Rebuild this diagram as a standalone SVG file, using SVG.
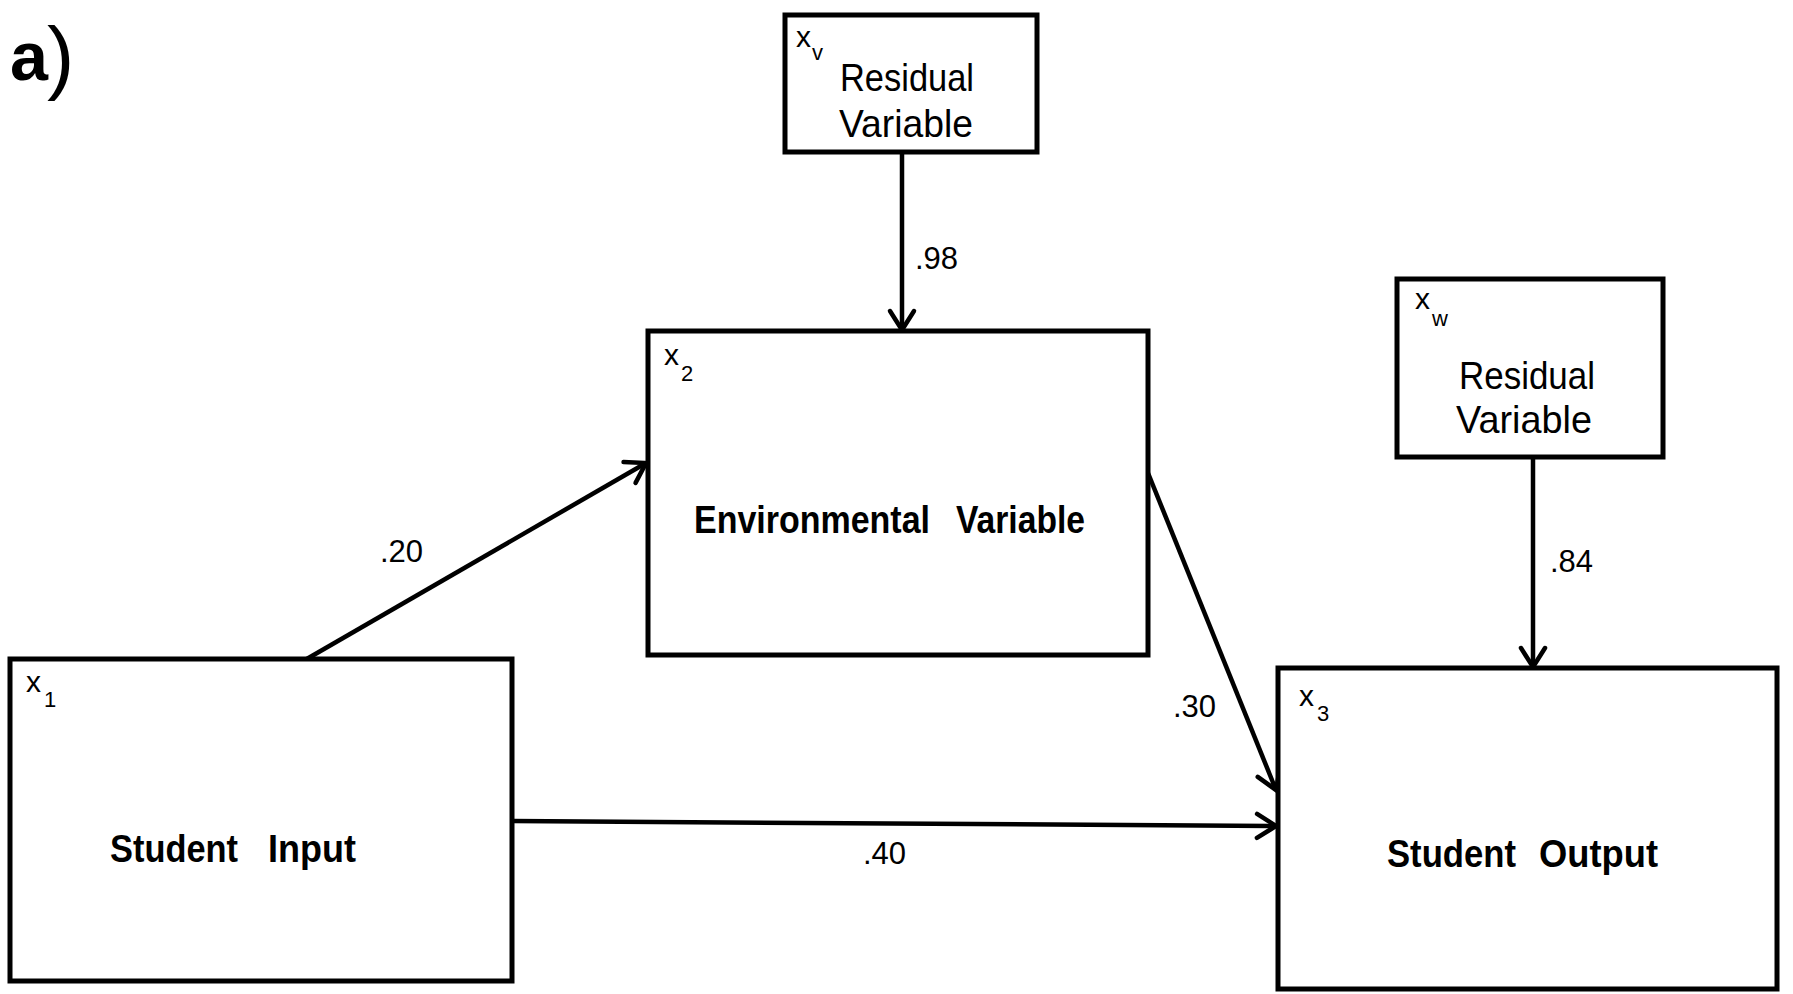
<svg xmlns="http://www.w3.org/2000/svg" width="1793" height="994" viewBox="0 0 1793 994">
<style>
.box{fill:#fff;stroke:#000;stroke-width:5;stroke-linejoin:miter}
.conn{stroke:#000;stroke-width:4.5;fill:none}
.lbl{font-family:"Liberation Sans",Arial,sans-serif;font-size:39px;fill:#000}
.bold{font-family:"Liberation Sans",Arial,sans-serif;font-size:38px;font-weight:bold;fill:#000}
.num{font-family:"Liberation Sans",Arial,sans-serif;font-size:31px;fill:#000}
.var{font-family:"Liberation Sans",Arial,sans-serif;font-size:30px;fill:#000}
.sub{font-family:"Liberation Sans",Arial,sans-serif;font-size:22px;fill:#000}
</style>
<defs>
<marker id="arr" markerUnits="userSpaceOnUse" viewBox="-25 -16 30 32" markerWidth="30" markerHeight="32" refX="0" refY="0" orient="auto" overflow="visible">
<path d="M-19,-12 L0,0 L-19,12" fill="none" stroke="#000" stroke-width="4.5" stroke-linecap="round" stroke-linejoin="miter"/>
</marker>
</defs>
<rect width="1793" height="994" fill="#fff"/>
<g id="panel-label">
<text x="10" y="80" font-family="Liberation Sans, Arial, sans-serif" font-weight="bold" font-size="68" textLength="38" lengthAdjust="spacingAndGlyphs">a</text>
<text x="47" y="84" font-family="Liberation Sans, Arial, sans-serif" font-size="82">)</text>
</g>
<g id="connectors">
<line class="conn" x1="902" y1="152" x2="902" y2="330" marker-end="url(#arr)"/>
<line class="conn" x1="1533" y1="458" x2="1533" y2="667" marker-end="url(#arr)"/>
<line class="conn" x1="305" y1="660" x2="646" y2="463" marker-end="url(#arr)"/>
<line class="conn" x1="1148" y1="473" x2="1276" y2="790" marker-end="url(#arr)"/>
<line class="conn" x1="512" y1="821" x2="1276" y2="826" marker-end="url(#arr)"/>
<text class="num" x="915" y="269">.98</text>
<text class="num" x="1550" y="572">.84</text>
<text class="num" x="380" y="562">.20</text>
<text class="num" x="1173" y="717">.30</text>
<text class="num" x="863" y="864">.40</text>
</g>
<g id="residual-v">
<rect class="box" x="785" y="15" width="252" height="137"/>
<text class="var" x="796" y="47">x</text>
<text class="sub" x="812" y="60">v</text>
<text class="lbl" x="840" y="91" textLength="134" lengthAdjust="spacingAndGlyphs">Residual</text>
<text class="lbl" x="839" y="137" textLength="134" lengthAdjust="spacingAndGlyphs">Variable</text>
</g>
<g id="environmental">
<rect class="box" x="648" y="331" width="500" height="324"/>
<text class="var" x="664" y="365">x</text>
<text class="sub" x="681" y="381">2</text>
<text class="bold" x="694" y="533" textLength="236" lengthAdjust="spacingAndGlyphs">Environmental</text>
<text class="bold" x="956" y="533" textLength="129" lengthAdjust="spacingAndGlyphs">Variable</text>
</g>
<g id="residual-w">
<rect class="box" x="1397" y="279" width="266" height="178"/>
<text class="var" x="1415" y="309">x</text>
<text class="sub" x="1432" y="326" font-size="26">w</text>
<text class="lbl" x="1459" y="389" textLength="136" lengthAdjust="spacingAndGlyphs">Residual</text>
<text class="lbl" x="1456" y="433" textLength="136" lengthAdjust="spacingAndGlyphs">Variable</text>
</g>
<g id="student-input">
<rect class="box" x="10" y="659" width="502" height="322"/>
<text class="var" x="26" y="692">x</text>
<text class="sub" x="44" y="707">1</text>
<text class="bold" x="110" y="862" textLength="128" lengthAdjust="spacingAndGlyphs">Student</text>
<text class="bold" x="268" y="862" textLength="88" lengthAdjust="spacingAndGlyphs">Input</text>
</g>
<g id="student-output">
<rect class="box" x="1278" y="668" width="499" height="321"/>
<text class="var" x="1299" y="706">x</text>
<text class="sub" x="1317" y="721">3</text>
<text class="bold" x="1387" y="867" textLength="129" lengthAdjust="spacingAndGlyphs">Student</text>
<text class="bold" x="1539" y="867" textLength="119" lengthAdjust="spacingAndGlyphs">Output</text>
</g>
</svg>
